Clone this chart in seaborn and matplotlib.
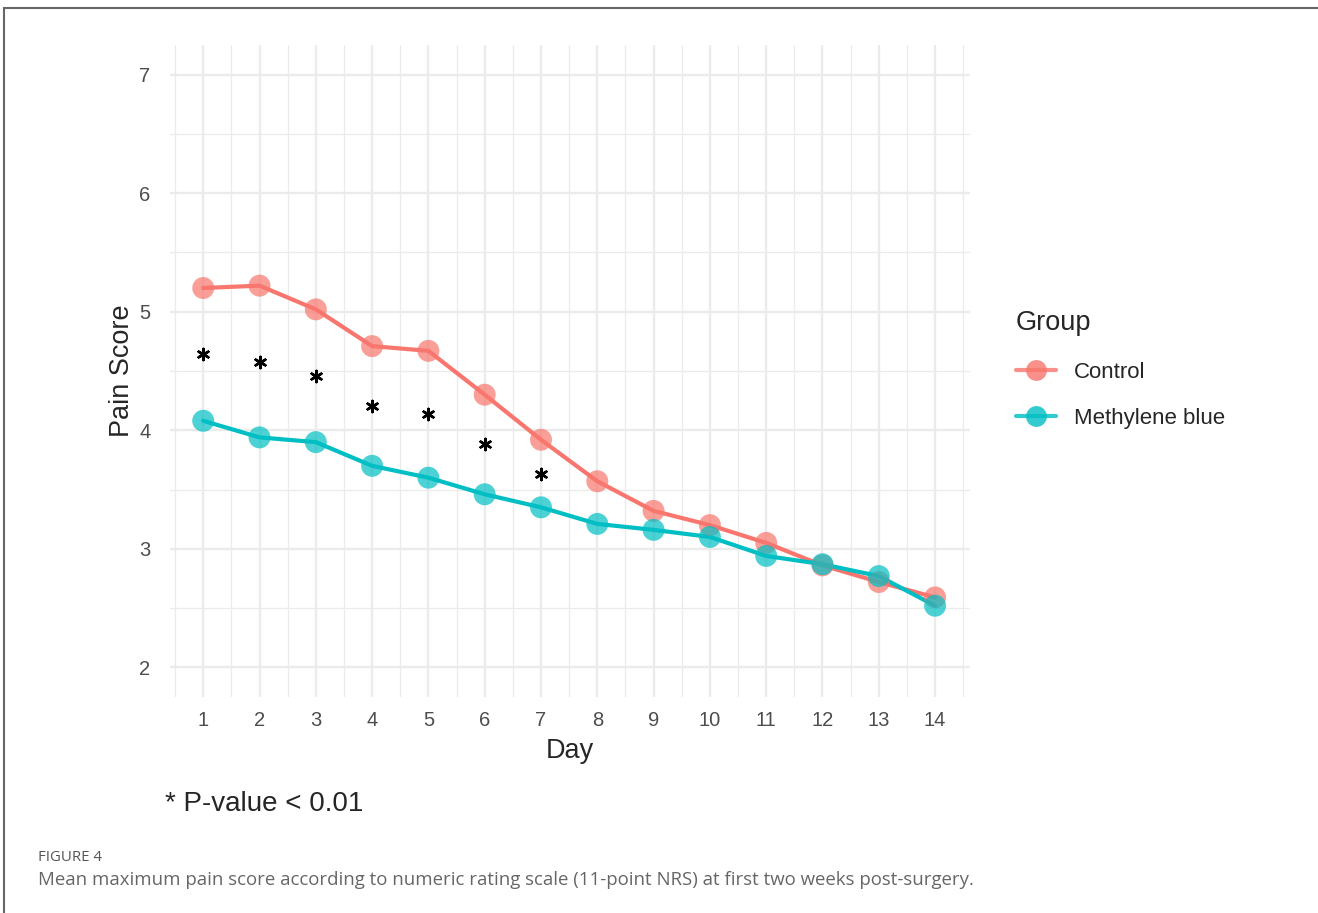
import matplotlib
matplotlib.use("Agg")
import matplotlib.pyplot as plt
from matplotlib.lines import Line2D
from matplotlib.patches import Rectangle
import seaborn as sns
import pandas as pd
import numpy as np

days = list(range(1, 15))
control = [5.20, 5.22, 5.02, 4.71, 4.67, 4.30, 3.92, 3.57, 3.32, 3.20, 3.05, 2.86, 2.72, 2.59]
methylene = [4.08, 3.94, 3.90, 3.70, 3.60, 3.46, 3.35, 3.21, 3.16, 3.10, 2.94, 2.87, 2.77, 2.52]
groups = ["Control", "Methylene blue"]
colors = ["#F8766D", "#00BFC4"]
sig_days = [1, 2, 3, 4, 5, 6, 7]

df = pd.DataFrame({
    "Day": days * 2,
    "Pain Score": control + methylene,
    "Group": [groups[0]] * len(days) + [groups[1]] * len(days),
})
# stars sit half way between the two groups
stars = pd.DataFrame({
    "Day": sig_days,
    "y": [(control[d - 1] + methylene[d - 1]) / 2 for d in sig_days],
})

sns.set_style("white")
plt.rcParams["font.family"] = ["Liberation Sans", "DejaVu Sans"]

fig = plt.figure(figsize=(13.18, 9.13), dpi=100)
ax = fig.add_axes([170 / 1318, 1 - 697 / 913, 800 / 1318, 652 / 913])

pal = dict(zip(groups, colors))
sns.lineplot(data=df, x="Day", y="Pain Score", hue="Group", palette=pal,
             linewidth=3.0, legend=False, ax=ax, zorder=3)
sns.scatterplot(data=df, x="Day", y="Pain Score", hue="Group", palette=pal,
                s=250, alpha=0.7, linewidth=0, legend=False, ax=ax, zorder=4)
sns.scatterplot(data=stars, x="Day", y="y", marker=(6, 2, 0), s=65,
                color="black", edgecolor="black", linewidth=1.8, legend=False,
                ax=ax, zorder=5)

ax.set_xlim(0.41, 14.62)
ax.set_ylim(1.75, 7.25)
ax.set_xticks(days)
ax.set_yticks(range(2, 8))
ax.set_xticks(np.arange(0.5, 15, 1), minor=True)
ax.set_yticks(np.arange(2.5, 7, 1), minor=True)
ax.grid(which="major", color="#EBEBEB", linewidth=1.7)
ax.grid(which="minor", color="#EBEBEB", linewidth=0.9)
ax.set_axisbelow(True)
for s in ax.spines.values():
    s.set_visible(False)
ax.tick_params(which="both", length=0, labelsize=14.5, labelcolor="#4D4D4D")
ax.tick_params(axis="x", pad=10)
ax.tick_params(axis="y", pad=14)
ax.set_xlabel("Day", fontsize=19.5, labelpad=6)
ax.set_ylabel("Pain Score", fontsize=19.5, labelpad=3)

handles = [Line2D([0], [0], color=c, linewidth=3.0, marker="o", markersize=15,
                  markerfacecolor=c, markeredgewidth=0, alpha=0.8) for c in colors]
leg = fig.legend(handles, groups, title="Group", loc="upper left",
                 bbox_to_anchor=(996 / 1318, 1 - 290 / 913), frameon=False,
                 fontsize=16, title_fontsize=19.5, handlelength=1.8,
                 labelspacing=1.15, handletextpad=0.8)
leg._legend_box.align = "left"

fig.text(165 / 1318, 1 - 804 / 913, "* P-value < 0.01", fontsize=20, va="center")

fig.text(38 / 1318, 1 - 857 / 913, "FIGURE 4", fontsize=10.8, color="#555555",
         family=["Open Sans", "DejaVu Sans"], va="center")
fig.text(38 / 1318, 1 - 880 / 913,
         "Mean maximum pain score according to numeric rating scale (11-point NRS) at first two weeks post-surgery.",
         fontsize=13.4, color="#666666", family=["Open Sans", "DejaVu Sans"], va="center")

fig.patches.append(Rectangle((4 / 1318, -0.1), 1.2, 1.1 - 8 / 913,
                             transform=fig.transFigure, fill=False,
                             edgecolor="#666666", linewidth=1.5))

fig.savefig("out.png", dpi=100)
